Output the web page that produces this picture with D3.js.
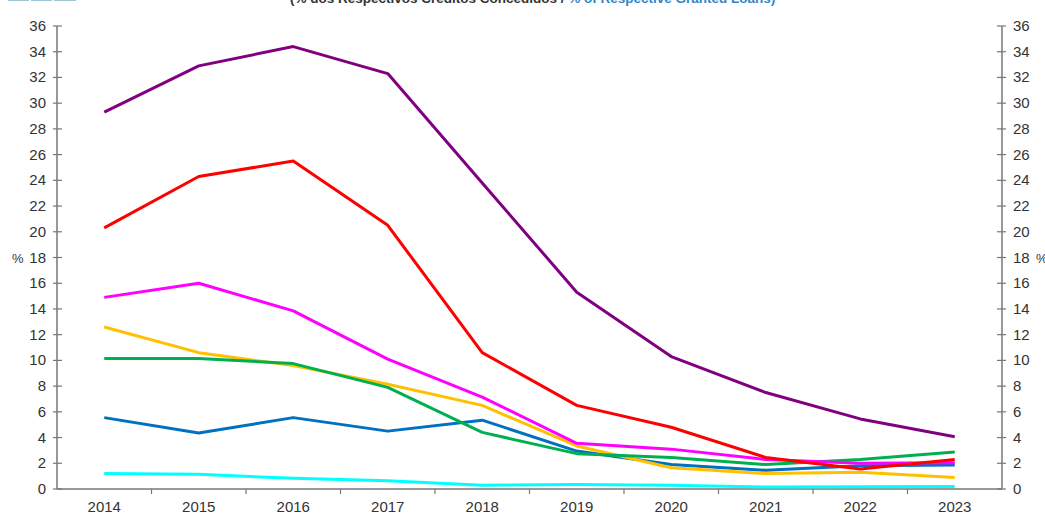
<!DOCTYPE html>
<html>
<head>
<meta charset="utf-8">
<style>
  body { margin: 0; background: #fff; }
  svg text { font-family: "Liberation Sans", Arial, sans-serif; }
</style>
<script src="https://d3js.org/d3.v7.min.js"></script>
</head>
<body>
<svg id="chart" width="1045" height="513"></svg>
<script>
// values (%)
var years = ["2014","2015","2016","2017","2018","2019","2020","2021","2022","2023"];
var purple  = [29.3, 32.9, 34.4, 32.3, 23.8, 15.3, 10.3, 7.5, 5.45, 4.06];
var red     = [20.3, 24.3, 25.5, 20.5, 10.6, 6.5, 4.8, 2.45, 1.55, 2.3];
var magenta = [14.9, 16.0, 13.85, 10.1, 7.15, 3.55, 3.1, 2.3, 2.0, 2.05];
var yellow  = [12.6, 10.6, 9.6, 8.15, 6.5, 3.35, 1.65, 1.2, 1.3, 0.9];
var green   = [10.15, 10.15, 9.75, 7.9, 4.4, 2.75, 2.45, 1.9, 2.3, 2.88];
var blue    = [5.55, 4.35, 5.55, 4.5, 5.35, 2.95, 1.9, 1.45, 1.8, 1.87];
var cyan    = [1.2, 1.14, 0.83, 0.65, 0.3, 0.35, 0.3, 0.15, 0.18, 0.2];
var yTicks  = d3.range(0, 37, 2);

var series = [
  {vals: cyan,    color: "#00FFFF"},
  {vals: blue,    color: "#0070C0"},
  {vals: yellow,  color: "#FFC000"},
  {vals: green,   color: "#00B050"},
  {vals: magenta, color: "#FF00FF"},
  {vals: red,     color: "#FF0000"},
  {vals: purple,  color: "#800080"}
];

var svg = d3.select("#chart");
var mLeft = 57, mRight = 1002, mTop = 26, mBottom = 489;

var x = d3.scaleBand().domain(years).range([mLeft, mRight]);
var y = d3.scaleLinear().domain([0, 36]).range([mBottom, mTop]);

// cut-off title and legend swatches at the top
svg.selectAll("rect.sw")
  .data([[8, 29], [31, 52], [54, 76]])
  .enter().append("rect")
  .attr("x", function(d) { return d[0]; })
  .attr("y", -5)
  .attr("width", function(d) { return d[1] - d[0]; })
  .attr("height", 6)
  .attr("fill", "#9EC4D6");

var title = svg.append("text")
  .attr("x", 290).attr("y", 3)
  .attr("font-size", 13.5).attr("font-weight", "bold");
title.append("tspan").attr("fill", "#333").text("(% dos Respectivos Créditos Concedidos / ");
title.append("tspan").attr("fill", "#2E86C8").text("% of Respective Granted Loans)");

// axes
var axisColor = "#777";
svg.append("line").attr("x1", mLeft).attr("x2", mLeft).attr("y1", mTop).attr("y2", mBottom)
  .attr("stroke", axisColor).attr("stroke-width", 1.5);
svg.append("line").attr("x1", mRight).attr("x2", mRight).attr("y1", mTop).attr("y2", mBottom)
  .attr("stroke", axisColor).attr("stroke-width", 1.5);
svg.append("line").attr("x1", mLeft).attr("x2", mRight).attr("y1", mBottom).attr("y2", mBottom)
  .attr("stroke", axisColor).attr("stroke-width", 1.5);

var yt = svg.append("g");
yTicks.forEach(function(t) {
  var yy = y(t);
  yt.append("line").attr("x1", mLeft - 4).attr("x2", mLeft + 5).attr("y1", yy).attr("y2", yy)
    .attr("stroke", axisColor).attr("stroke-width", 1.2);
  yt.append("line").attr("x1", mRight - 5).attr("x2", mRight + 4).attr("y1", yy).attr("y2", yy)
    .attr("stroke", axisColor).attr("stroke-width", 1.2);
  yt.append("text").attr("x", mLeft - 11).attr("y", yy + 5)
    .attr("text-anchor", "end").attr("font-size", 15).attr("fill", "#333").text(t);
  yt.append("text").attr("x", mRight + 11).attr("y", yy + 5)
    .attr("font-size", 15).attr("fill", "#333").text(t);
});
svg.append("text").attr("x", 12).attr("y", y(18) + 5).attr("font-size", 13).attr("fill", "#333").text("%");
svg.append("text").attr("x", 1036).attr("y", y(18) + 5).attr("font-size", 13).attr("fill", "#333").text("%");

// x ticks at band boundaries
years.forEach(function(yr, i) {
  var bx = x(yr);
  if (i > 0) {
    svg.append("line").attr("x1", bx).attr("x2", bx).attr("y1", mBottom).attr("y2", mBottom + 5)
      .attr("stroke", axisColor).attr("stroke-width", 1.2);
  }
  svg.append("text").attr("x", bx + x.bandwidth() / 2).attr("y", mBottom + 23)
    .attr("text-anchor", "middle").attr("font-size", 15).attr("fill", "#333").text(yr);
});

var line = d3.line()
  .x(function(d, i) { return x(years[i]) + x.bandwidth() / 2; })
  .y(function(d) { return y(d); });

svg.selectAll("path.series")
  .data(series)
  .enter().append("path")
  .attr("class", "series")
  .attr("d", function(s) { return line(s.vals); })
  .attr("fill", "none")
  .attr("stroke", function(s) { return s.color; })
  .attr("stroke-width", 3)
  .attr("stroke-linejoin", "round");
</script>
</body>
</html>
